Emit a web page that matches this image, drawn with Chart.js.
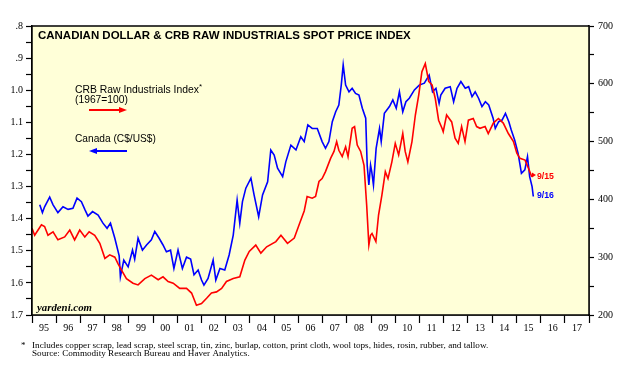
<!DOCTYPE html>
<html><head><meta charset="utf-8">
<script src="https://cdn.jsdelivr.net/npm/chart.js@4.4.1/dist/chart.umd.min.js"></script>
<style>html,body{margin:0;padding:0;background:#fff;}#wrap{width:635px;height:378px;}</style>
</head><body><div id="wrap"><canvas id="c" width="635" height="378"></canvas></div>
<script>
// Canada C$/US$ (left axis, inverted)
const cadDates = [1995.32,1995.43,1995.52,1995.73,1995.87,1996.07,1996.28,1996.49,1996.69,1996.86,1997.04,1997.18,1997.31,1997.50,1997.73,1997.93,1998.10,1998.24,1998.42,1998.60,1998.65,1998.79,1998.97,1999.15,1999.24,1999.38,1999.56,1999.73,1999.93,2000.07,2000.25,2000.41,2000.55,2000.72,2000.86,2001.03,2001.21,2001.38,2001.55,2001.69,2001.86,2002.00,2002.10,2002.27,2002.48,2002.59,2002.76,2002.96,2003.14,2003.31,2003.47,2003.58,2003.69,2003.83,2004.04,2004.17,2004.36,2004.52,2004.73,2004.86,2005.00,2005.14,2005.35,2005.48,2005.69,2005.90,2006.10,2006.24,2006.39,2006.57,2006.78,2006.98,2007.12,2007.26,2007.40,2007.54,2007.67,2007.77,2007.85,2007.95,2008.09,2008.22,2008.36,2008.50,2008.64,2008.78,2008.84,2008.91,2008.98,2009.03,2009.10,2009.21,2009.35,2009.42,2009.55,2009.76,2009.90,2010.04,2010.17,2010.31,2010.44,2010.58,2010.79,2010.99,2011.20,2011.40,2011.54,2011.68,2011.81,2011.88,2012.06,2012.27,2012.41,2012.55,2012.71,2012.89,2013.03,2013.17,2013.30,2013.44,2013.58,2013.72,2013.86,2014.04,2014.13,2014.27,2014.41,2014.55,2014.69,2014.79,2014.93,2015.07,2015.21,2015.35,2015.46,2015.55,2015.65,2015.70];
const cadValues = [1.357,1.381,1.363,1.333,1.357,1.381,1.363,1.371,1.368,1.336,1.347,1.371,1.392,1.378,1.389,1.414,1.430,1.414,1.461,1.516,1.581,1.529,1.550,1.498,1.526,1.461,1.498,1.482,1.466,1.440,1.461,1.482,1.503,1.498,1.555,1.498,1.555,1.520,1.526,1.575,1.560,1.591,1.607,1.586,1.529,1.591,1.555,1.560,1.513,1.451,1.342,1.414,1.347,1.305,1.274,1.326,1.394,1.326,1.285,1.186,1.202,1.243,1.269,1.223,1.171,1.186,1.145,1.160,1.108,1.119,1.119,1.160,1.181,1.160,1.098,1.067,1.046,0.984,0.921,0.984,1.005,0.994,1.010,1.015,1.056,1.087,1.233,1.295,1.233,1.254,1.295,1.181,1.119,1.160,1.072,1.051,1.030,1.056,1.005,1.067,1.036,1.025,0.999,0.984,0.978,0.953,1.005,0.994,1.041,1.015,0.994,0.989,1.036,0.994,0.973,0.994,0.989,1.020,1.005,1.025,1.051,1.036,1.046,1.087,1.119,1.098,1.093,1.072,1.098,1.124,1.155,1.196,1.259,1.248,1.207,1.269,1.300,1.331];
// CRB Raw Industrials spot index (right axis)
const crbDates = [1995.00,1995.11,1995.25,1995.39,1995.52,1995.66,1995.87,1996.07,1996.35,1996.56,1996.76,1996.97,1997.18,1997.36,1997.59,1997.80,1998.01,1998.21,1998.42,1998.55,1998.69,1998.90,1999.17,1999.38,1999.66,1999.93,2000.21,2000.41,2000.62,2000.83,2001.10,2001.38,2001.59,2001.79,2002.00,2002.21,2002.41,2002.62,2002.83,2003.03,2003.31,2003.58,2003.79,2003.97,2004.24,2004.45,2004.69,2005.07,2005.28,2005.55,2005.83,2006.03,2006.24,2006.36,2006.57,2006.71,2006.85,2006.98,2007.12,2007.33,2007.47,2007.58,2007.67,2007.81,2007.95,2008.05,2008.22,2008.32,2008.43,2008.57,2008.71,2008.82,2008.91,2008.98,2009.04,2009.20,2009.31,2009.45,2009.59,2009.70,2009.86,2010.00,2010.14,2010.31,2010.41,2010.52,2010.69,2010.83,2010.97,2011.10,2011.24,2011.38,2011.52,2011.65,2011.79,2011.93,2011.98,2012.12,2012.33,2012.47,2012.60,2012.74,2012.88,2013.02,2013.22,2013.36,2013.50,2013.71,2013.84,2014.05,2014.26,2014.46,2014.67,2014.88,2015.02,2015.15,2015.36,2015.50,2015.64];
const crbValues = [350,338,347,356,353,338,344,330,335,347,330,347,335,344,338,324,298,304,300,289,278,263,255,252,263,269,261,266,258,255,246,246,238,217,220,229,238,240,246,258,263,266,295,310,321,307,318,327,338,324,333,356,380,405,402,405,431,436,448,471,483,500,485,474,491,474,523,526,494,483,459,390,321,338,341,327,373,408,448,436,465,497,477,514,483,465,500,546,581,621,635,604,598,575,537,523,517,546,534,506,497,526,500,537,540,526,523,526,514,532,540,532,514,500,480,471,468,454,439];
const yearLabels = ['95','96','97','98','99','00','01','02','03','04','05','06','07','08','09','10','11','12','13','14','15','16','17'];
const cadTickLabels = ['.8','.9','1.0','1.1','1.2','1.3','1.4','1.5','1.6','1.7'];
const crbTickLabels = ['200','300','400','500','600','700'];

const tickFont = {family:'Liberation Serif', size:10};

function fitText(ctx, text, x, y, width, tmpl, base) {
  ctx.font = tmpl.replace('%s', base);
  const w = ctx.measureText(text).width;
  const s = base * width / w;
  ctx.font = tmpl.replace('%s', s.toFixed(2));
  ctx.fillText(text, x, y);
}

const deco = {
  id: 'deco',
  beforeDatasetsDraw(chart) {
    const {ctx, chartArea: a} = chart;
    ctx.save();
    ctx.fillStyle = '#ffffd8';
    ctx.fillRect(a.left, a.top, a.right - a.left, a.bottom - a.top);
    ctx.restore();
  },
  afterDraw(chart) {
    const {ctx, chartArea: a} = chart;
    ctx.save();
    ctx.strokeStyle = '#000'; ctx.lineWidth = 1.5;
    ctx.strokeRect(a.left, a.top, a.right - a.left, a.bottom - a.top);
    ctx.textBaseline = 'alphabetic'; ctx.textAlign = 'left';
    ctx.fillStyle = '#000';
    fitText(ctx, 'CANADIAN DOLLAR & CRB RAW INDUSTRIALS SPOT PRICE INDEX', 38, 38.5, 373, 'bold %spx "Liberation Sans"', 11);
    // legend
    fitText(ctx, 'CRB Raw Industrials Index', 75, 93, 124, '%spx "Liberation Sans"', 10);
    ctx.font = '8px "Liberation Sans"'; ctx.fillText('*', 199, 89);
    fitText(ctx, '(1967=100)', 75, 102.5, 53, '%spx "Liberation Sans"', 10);
    fitText(ctx, 'Canada (C$/US$)', 75, 141.5, 81, '%spx "Liberation Sans"', 10);
    // arrows
    ctx.strokeStyle = '#ff0000'; ctx.fillStyle = '#ff0000'; ctx.lineWidth = 2;
    ctx.beginPath(); ctx.moveTo(89, 110); ctx.lineTo(120, 110); ctx.stroke();
    ctx.beginPath(); ctx.moveTo(127, 110); ctx.lineTo(119, 107); ctx.lineTo(119, 113); ctx.closePath(); ctx.fill();
    ctx.strokeStyle = '#0000ff'; ctx.fillStyle = '#0000ff';
    ctx.beginPath(); ctx.moveTo(96, 151); ctx.lineTo(127, 151); ctx.stroke();
    ctx.beginPath(); ctx.moveTo(89, 151); ctx.lineTo(97, 148); ctx.lineTo(97, 154); ctx.closePath(); ctx.fill();
    // end labels
    ctx.fillStyle = '#ff0000';
    ctx.beginPath(); ctx.moveTo(536, 175); ctx.lineTo(532, 172.5); ctx.lineTo(532, 177.5); ctx.closePath(); ctx.fill();
    fitText(ctx, '9/15', 537, 178.5, 17, 'bold %spx "Liberation Sans"', 9);
    ctx.fillStyle = '#0000ff';
    fitText(ctx, '9/16', 537, 197.5, 17, 'bold %spx "Liberation Sans"', 9);
    // source
    ctx.fillStyle = '#000';
    fitText(ctx, 'yardeni.com', 37, 311, 55, 'bold italic %spx "Liberation Serif"', 11);
    ctx.font = '9px "Liberation Serif"'; ctx.fillText('*', 21, 348);
    fitText(ctx, 'Includes copper scrap, lead scrap, steel scrap, tin, zinc, burlap, cotton, print cloth, wool tops, hides, rosin, rubber, and tallow.', 32, 347.5, 457, '%spx "Liberation Serif"', 9);
    fitText(ctx, 'Source: Commodity Research Bureau and Haver Analytics.', 32, 356, 218, '%spx "Liberation Serif"', 9);
    ctx.restore();
  }
};

new Chart(document.getElementById('c'), {
  type: 'line',
  data: {
    datasets: [
      {label: 'CRB Raw Industrials', data: crbDates.map((d, i) => ({x: d, y: crbValues[i]})), yAxisID: 'y2', borderColor: '#ff0000', borderWidth: 1.6, pointRadius: 0, tension: 0, fill: false},
      {label: 'Canada (C$/US$)', data: cadDates.map((d, i) => ({x: d, y: cadValues[i]})), yAxisID: 'y', borderColor: '#0000ff', borderWidth: 1.6, pointRadius: 0, tension: 0, fill: false}
    ]
  },
  options: {
    responsive: false, animation: false, devicePixelRatio: 1,
    layout: {padding: {top: 26, left: 0, right: 0, bottom: 0}},
    plugins: {legend: {display: false}, tooltip: {enabled: false}, title: {display: false}},
    scales: {
      x: {
        type: 'linear', position: 'bottom', min: 1995, max: 2018,
        afterBuildTicks(axis) { const t = []; for (let i = 0; i <= 46; i++) t.push({value: 1995 + i * 0.5}); axis.ticks = t; },
        afterFit(axis) { axis.height = 63; },
        grid: {drawOnChartArea: false, drawTicks: true, tickLength: 8, tickWidth: 1.2,
               tickColor: c => (c.tick && c.tick.value % 1 === 0) ? '#000' : 'rgba(0,0,0,0)'},
        border: {display: true, color: '#000', width: 1.5},
        ticks: {autoSkip: false, maxRotation: 0, minRotation: 0, padding: -1, color: '#000', font: tickFont,
                callback: v => (v % 1 === 0.5) ? yearLabels[Math.floor(v) - 1995] : ''}
      },
      y: {
        type: 'linear', position: 'left', reverse: true, min: 0.8, max: 1.7,
        afterBuildTicks(axis) { const t = []; for (let i = 0; i <= 18; i++) t.push({value: Math.round((0.8 + i * 0.05) * 100) / 100}); axis.ticks = t; },
        afterFit(axis) { axis.width = 32; },
        grid: {drawOnChartArea: false, drawTicks: true, tickLength: 6, tickColor: '#000', tickWidth: 1.2},
        border: {display: true, color: '#000', width: 1.5},
        ticks: {autoSkip: false, padding: 3, color: '#000', font: tickFont,
                callback: (v, i) => (i % 2 === 0) ? cadTickLabels[i / 2] : ''}
      },
      y2: {
        type: 'linear', position: 'right', min: 200, max: 700,
        afterBuildTicks(axis) { const t = []; for (let i = 0; i <= 10; i++) t.push({value: 200 + i * 50}); axis.ticks = t; },
        afterFit(axis) { axis.width = 46; },
        grid: {drawOnChartArea: false, drawTicks: true, tickLength: 5, tickColor: '#000', tickWidth: 1.2},
        border: {display: true, color: '#000', width: 1.5},
        ticks: {autoSkip: false, padding: 4, color: '#000', font: tickFont,
                callback: (v, i) => (i % 2 === 0) ? crbTickLabels[i / 2] : ''}
      }
    }
  },
  plugins: [deco]
});
</script>
</body></html>
